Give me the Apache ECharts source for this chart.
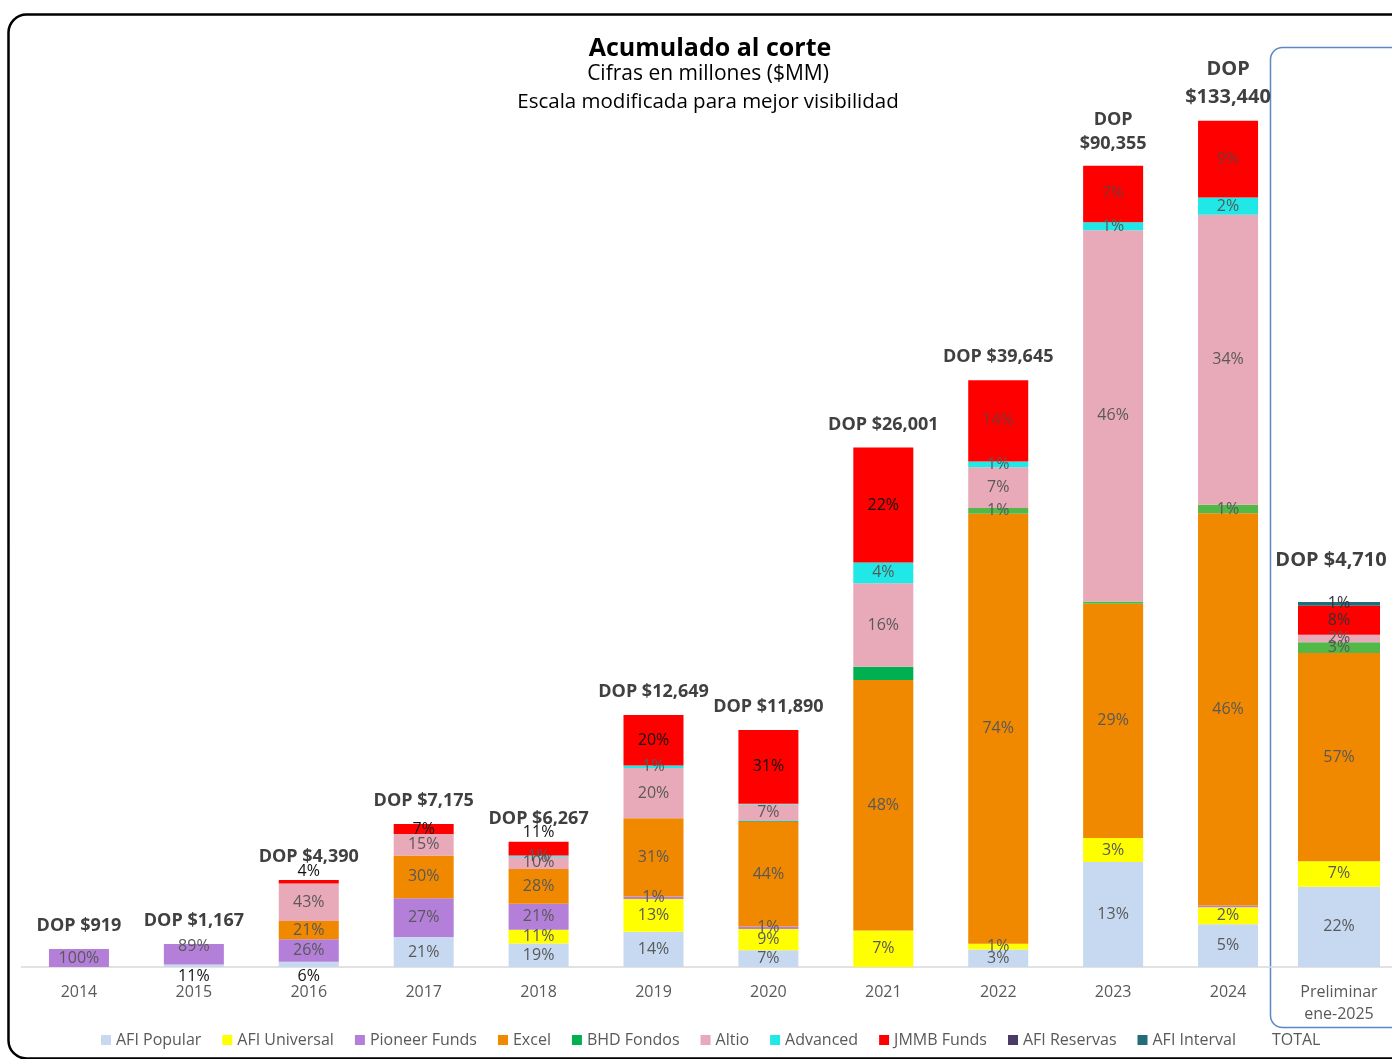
<!DOCTYPE html>
<html>
<head>
<meta charset="utf-8">
<title>Acumulado al corte</title>
<script src="https://cdn.jsdelivr.net/npm/echarts@6/dist/echarts.min.js"></script>
<style>
  html, body { margin: 0; padding: 0; background: #fff; }
  #chart { width: 1392px; height: 1059px; }
</style>
</head>
<body>
<div id="chart"></div>
<script>
// categorias del eje (la ultima va en su propio recuadro)
const categorias = ['2014', '2015', '2016', '2017', '2018', '2019', '2020', '2021', '2022', '2023', '2024']
const categoriaPreliminar = 'Preliminar\nene-2025'

// totales acumulados, millones DOP
const totalesDOP = ['DOP $919', 'DOP $1,167', 'DOP $4,390', 'DOP $7,175', 'DOP $6,267', 'DOP $12,649',
  'DOP $11,890', 'DOP $26,001', 'DOP $39,645', 'DOP\n$90,355', 'DOP\n$133,440', 'DOP $4,710']

// alto de cada columna en la escala modificada (no proporcional al total), por cada 100%
const escalaVisual = [18, 23, 87, 143, 124, 252, 238, 522, 581, 807, 853, 365]

// participacion % por administradora (2014..2024, preliminar)
// los valores con decimales son franjas finas sin etiqueta en el original
const afiPopular   = [0, 11, 6, 21, 19, 14, 7, 0, 3, 13, 5, 22]
const afiUniversal = [0, 0, 0, 0, 11, 13, 9, 7, 1, 3, 2, 7]
const pioneerFunds = [100, 89, 26, 27, 21, 1, 1, 0, 0, 0, 0.2, 0]
const excel        = [0, 0, 21, 30, 28, 31, 44, 48, 74, 29, 46, 57]
const bhdFondos    = [0, 0, 0, 0, 0, 0, 0.3, 2.5, 1, 0.3, 1, 3]
const altio        = [0, 0, 43, 15, 10, 20, 7, 16, 7, 46, 34, 2]
const advanced     = [0, 0, 0, 0, 1, 1, 0.3, 4, 1, 1, 2, 0]
const jmmbFunds    = [0, 0, 4, 7, 11, 20, 31, 22, 14, 7, 9, 8]
const afiReservas  = [0, 0, 0, 0, 0, 0, 0, 0, 0, 0, 0, 0]
const afiInterval  = [0, 0, 0, 0, 0, 0, 0, 0, 0, 0, 0, 1]

const FONT = 'Open Sans'
const GRIS = '#595959'

const fondos = [
  { nombre: 'AFI Popular', color: '#c6d9f0', valores: afiPopular },
  { nombre: 'AFI Universal', color: '#ffff00', valores: afiUniversal },
  { nombre: 'Pioneer Funds', color: '#b37fd8', valores: pioneerFunds },
  { nombre: 'Excel', color: '#f08800', valores: excel },
  { nombre: 'BHD Fondos', color: '#00b050', valores: bhdFondos },
  { nombre: 'Altio', color: '#e8a9b9', valores: altio },
  { nombre: 'Advanced', color: '#20e8e6', valores: advanced },
  { nombre: 'JMMB Funds', color: '#ff0000', valores: jmmbFunds },
  { nombre: 'AFI Reservas', color: '#4a3a66', valores: afiReservas },
  { nombre: 'AFI Interval', color: '#256b78', valores: afiInterval }
]

// etiquetas que en el original quedan fuera de la columna
const etiquetaFuera = {
  'AFI Popular|1': 'bottom',
  'AFI Popular|2': 'bottom',
  'JMMB Funds|2': 'top',
  'JMMB Funds|4': 'top'
}

function colorEtiqueta (nombre, i) {
  if (nombre === 'JMMB Funds' || nombre === 'AFI Interval') {
    if (i <= 7) return '#111'
    if (i === 11) return '#333'
    return '#7a3535'
  }
  return GRIS
}

function colorBarra (f, i) {
  // el verde de BHD se ve mas claro en los ultimos cortes
  if (f.nombre === 'BHD Fondos' && i >= 8) return '#52b848'
  return f.color
}

function serieFondo (f, desde, hasta, eje) {
  return {
    name: f.nombre,
    type: 'bar',
    stack: 'pila' + eje,
    xAxisIndex: eje,
    yAxisIndex: eje,
    barWidth: eje ? 82 : 60,
    itemStyle: { color: f.color },
    data: f.valores.slice(desde, hasta).map((p, k) => {
      const i = desde + k
      if (!p) return null
      const pos = etiquetaFuera[f.nombre + '|' + i]
      return {
        value: p * escalaVisual[i] / 100,
        pct: p,
        itemStyle: { color: colorBarra(f, i) },
        label: {
          show: Number.isInteger(p),
          position: pos || 'inside',
          distance: pos ? 1 : 5,
          offset: (f.nombre === 'Pioneer Funds' && i === 1) ? [0, -8] : [0, 0],
          color: pos ? '#111' : colorEtiqueta(f.nombre, i)
        }
      }
    }),
    label: {
      fontFamily: FONT,
      fontSize: 16,
      formatter: params => params.data.pct + '%'
    }
  }
}

function serieTotal (desde, hasta, eje) {
  return {
    name: 'TOTAL',
    type: 'bar',
    stack: 'pila' + eje,
    xAxisIndex: eje,
    yAxisIndex: eje,
    barWidth: eje ? 82 : 60,
    itemStyle: { color: 'rgba(0,0,0,0)' },
    data: totalesDOP.slice(desde, hasta).map((t, k) => {
      const i = desde + k
      const dosLineas = t.indexOf('\n') > -1
      return {
        value: 0,
        texto: t,
        label: {
          fontSize: i >= 10 ? 20 : 18,
          lineHeight: i >= 10 ? 28 : 24,
          distance: i === 11 ? 28 : (dosLineas ? 10 : 11),
          offset: i === 11 ? [-8, 0] : [0, 0]
        }
      }
    }),
    label: {
      show: true,
      position: 'top',
      fontFamily: FONT,
      fontWeight: 'bold',
      color: '#404040',
      formatter: params => params.data.texto
    }
  }
}

const series = []
fondos.forEach(f => {
  series.push(serieFondo(f, 0, 11, 0))
  series.push(serieFondo(f, 11, 12, 1))
})
series.push(serieTotal(0, 11, 0))
series.push(serieTotal(11, 12, 1))

const ejeX = {
  type: 'category',
  axisTick: { show: false },
  axisLine: { lineStyle: { color: '#d9d9d9', width: 1.5 } },
  axisLabel: { color: GRIS, fontFamily: FONT, fontSize: 16, margin: 14, lineHeight: 22, interval: 0 }
}
const ejeY = { type: 'value', show: false, min: 0, max: 900 }

const option = {
  animation: false,
  backgroundColor: '#fff',
  textStyle: { fontFamily: FONT },
  title: [
    {
      text: 'Acumulado al corte', left: 705, top: 31, textAlign: 'center',
      textStyle: { fontFamily: FONT, fontSize: 25, fontWeight: 'bold', color: '#000' }
    },
    {
      text: 'Cifras en millones ($MM)', left: 703, top: 59, textAlign: 'center',
      textStyle: { fontFamily: FONT, fontSize: 21, fontWeight: 'normal', color: '#000' }
    },
    {
      text: 'Escala modificada para mejor visibilidad', left: 703, top: 87, textAlign: 'center',
      textStyle: { fontFamily: FONT, fontSize: 20.5, fontWeight: 'normal', color: '#000' }
    }
  ],
  legend: {
    data: fondos.map(f => f.nombre).concat('TOTAL'),
    left: 96,
    top: 1027,
    icon: 'rect',
    itemWidth: 10,
    itemHeight: 10,
    itemGap: 21,
    textStyle: { color: GRIS, fontFamily: FONT, fontSize: 16 }
  },
  grid: [
    { left: 21.5, width: 1264, top: 67, bottom: 92 },
    { left: 1286, width: 108, top: 67, bottom: 92 }
  ],
  xAxis: [
    Object.assign({ gridIndex: 0, data: categorias }, ejeX),
    Object.assign({ gridIndex: 1, data: [categoriaPreliminar] }, ejeX)
  ],
  yAxis: [
    Object.assign({ gridIndex: 0 }, ejeY),
    Object.assign({ gridIndex: 1 }, ejeY)
  ],
  graphic: [
    {
      type: 'rect',
      shape: { x: 8.5, y: 14.5, width: 1420, height: 1044, r: 18 },
      style: { fill: 'none', stroke: '#000', lineWidth: 2.5 },
      silent: true
    },
    {
      type: 'rect',
      shape: { x: 1270.5, y: 47.5, width: 160, height: 980, r: 12 },
      style: { fill: 'none', stroke: '#5b87c5', lineWidth: 1.5 },
      silent: true
    }
  ],
  series: series
}

const chart = echarts.init(document.getElementById('chart'))
chart.setOption(option)
window.addEventListener('resize', () => chart.resize())
</script>
</body>
</html>
